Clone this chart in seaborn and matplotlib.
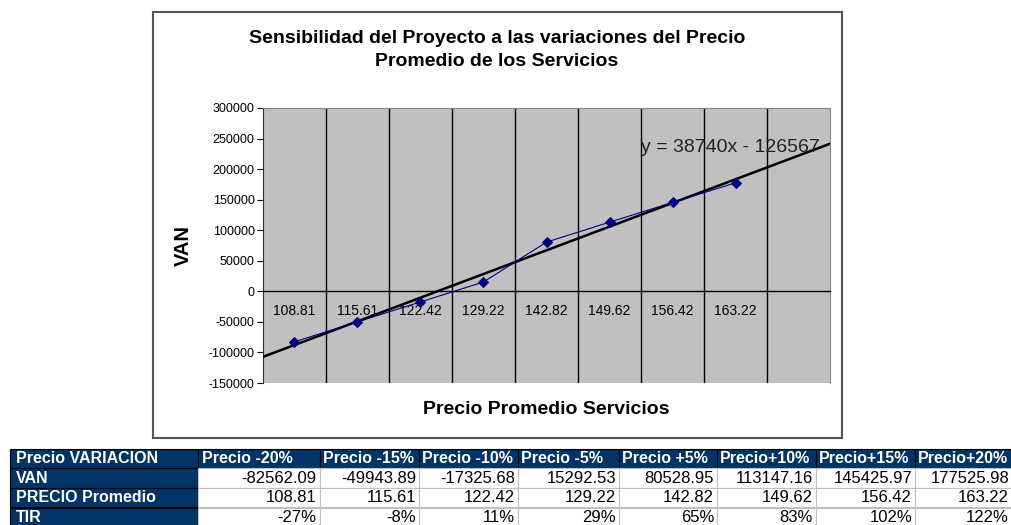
import numpy as np
import pandas as pd
import matplotlib.pyplot as plt
import seaborn as sns
from matplotlib.patches import Rectangle

# Data
variacion = ["Precio -20%", "Precio -15%", "Precio -10%", "Precio -5%",
             "Precio +5%", "Precio+10%", "Precio+15%", "Precio+20%"]
van = [-82562.09, -49943.89, -17325.68, 15292.53,
       80528.95, 113147.16, 145425.97, 177525.98]
precio = [108.81, 115.61, 122.42, 129.22, 142.82, 149.62, 156.42, 163.22]
tir = ["-27%", "-8%", "11%", "29%", "65%", "83%", "102%", "122%"]
y_ticks = [-150000, -100000, -50000, 0, 50000, 100000, 150000, 200000, 250000, 300000]

df = pd.DataFrame({"pos": np.arange(1, len(van) + 1), "VAN": van})

sns.set_style("white")
plt.rcParams["font.family"] = ["Liberation Sans", "DejaVu Sans"]
plt.rcParams["text.color"] = "black"
plt.rcParams["xtick.color"] = "black"
plt.rcParams["ytick.color"] = "black"

W, H = 1012, 525
fig = plt.figure(figsize=(W / 100, H / 100), dpi=100)

# outer chart frame
fig.patches.append(Rectangle((153 / W, 1 - 438 / H), (842 - 153) / W, (438 - 12) / H,
                             transform=fig.transFigure, fill=False,
                             edgecolor="#555555", linewidth=1.5, zorder=0))

ax = fig.add_axes([263 / W, 1 - 383 / H, (830 - 263) / W, (383 - 108) / H])
ax.set_facecolor("#c0c0c0")
ax.set_xlim(0.5, 9.5)
ax.set_ylim(-150000, 300000)

# vertical gridlines at category boundaries
for b in np.arange(1.5, 9.5, 1.0):
    ax.axvline(b, color="black", linewidth=1.0, zorder=1)

sns.regplot(data=df, x="pos", y="VAN", ax=ax, scatter=False, ci=None,
            truncate=False, line_kws={"color": "black", "linewidth": 1.8, "zorder": 3})
sns.lineplot(data=df, x="pos", y="VAN", ax=ax, color="#000080", linewidth=0.8,
             marker="D", markersize=5, markeredgecolor="#000080", zorder=4)
ax.set_xlim(0.5, 9.5)
ax.set_ylim(-150000, 300000)

ax.set_yticks(y_ticks)
ax.set_yticklabels([str(v) for v in y_ticks], fontsize=9)
ax.tick_params(axis="y", direction="out", length=4, width=0.8, pad=2, left=True)

ax.set_xticks(df["pos"])
ax.set_xticklabels([f"{p:.2f}" for p in precio], fontsize=8, color="#222222")
ax.tick_params(axis="x", length=0, pad=9)
ax.spines["bottom"].set_position(("data", 0))
ax.spines["bottom"].set_color("black")
ax.spines["bottom"].set_linewidth(1.0)
ax.spines["left"].set_color("#333333")
ax.spines["top"].set_color("#888888")
ax.spines["right"].set_color("#888888")

ax.set_xlabel("")
ax.set_ylabel("")
fig.text((263 + 830) / 2 / W, 1 - 409 / H, "Precio Promedio Servicios",
         ha="center", va="center", fontsize=14, fontweight="bold")
fig.text(183 / W, 1 - 245 / H, "VAN", ha="center", va="center", rotation=90,
         fontsize=14.5, fontweight="bold")
fig.text(497 / W, 1 - 50 / H,
         "Sensibilidad del Proyecto a las variaciones del Precio\nPromedio de los Servicios",
         ha="center", va="center", fontsize=14, fontweight="bold", linespacing=1.5)

ax.text(6.5, 236000, "y = 38740x - 126567", ha="left", va="center",
        fontsize=14, color="#222222", zorder=5)

# data table below the chart
tax = fig.add_axes([10 / W, 1 - 527 / H, (1012 - 10) / W, (527 - 449) / H])
tax.axis("off")
col_px = [188, 122, 99, 99, 101, 98, 99, 99, 97]
col_w = [c / sum(col_px) for c in col_px]
rows = [["Precio VARIACION"] + variacion,
        ["VAN"] + [f"{v:.2f}" for v in van],
        ["PRECIO Promedio"] + [f"{p:.2f}" for p in precio],
        ["TIR"] + tir]
tbl = tax.table(cellText=rows, colWidths=col_w, bbox=[0, 0, 1, 1])
tbl.auto_set_font_size(False)
navy = "#003366"
for (r, c), cell in tbl.get_celld().items():
    txt = cell.get_text()
    cell.PAD = 0.03
    if r == 0 or c == 0:
        cell.set_facecolor(navy)
        cell.set_edgecolor("black")
        cell.set_linewidth(0.8)
        txt.set_color("white")
        txt.set_fontweight("bold")
        txt.set_fontsize(11.5)
        txt.set_ha("left")
        cell._loc = "left"
    else:
        cell.set_facecolor("white")
        cell.set_edgecolor("#c0c0c0")
        cell.set_linewidth(0.8)
        txt.set_color("black")
        txt.set_fontsize(12)
        txt.set_ha("right")
        cell._loc = "right"

fig.savefig("out.png", dpi=100)
